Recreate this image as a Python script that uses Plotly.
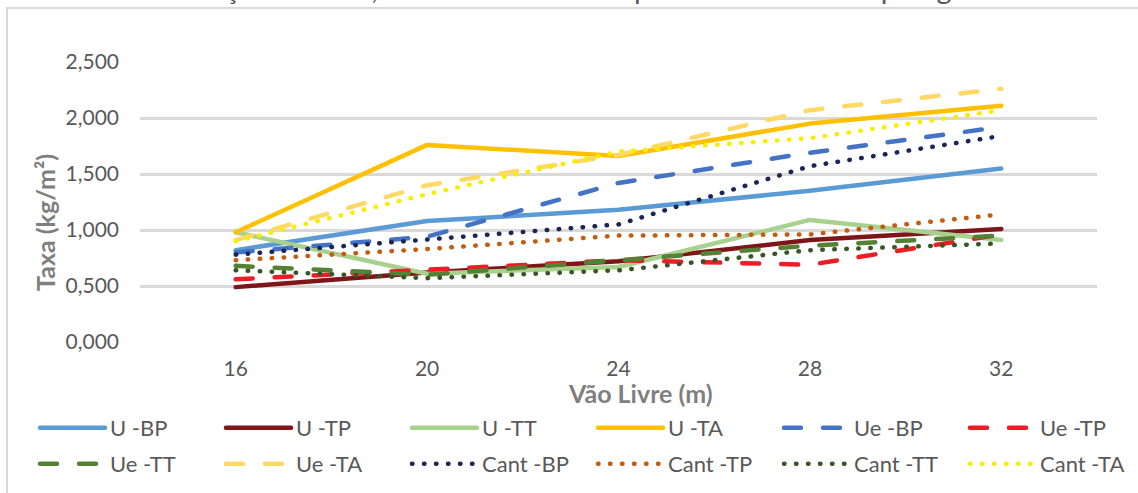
import plotly.graph_objects as go

# Vão livre (m) – eixo de categorias
vaos = ["16", "20", "24", "28", "32"]

# Taxa (kg/m²) por tipologia
u_bp = [0.82, 1.08, 1.18, 1.35, 1.55]
u_tp = [0.49, 0.62, 0.72, 0.91, 1.01]
u_tt = [0.98, 0.61, 0.67, 1.09, 0.91]
u_ta = [0.98, 1.76, 1.66, 1.95, 2.11]
ue_bp = [0.80, 0.94, 1.42, 1.69, 1.92]
ue_tp = [0.56, 0.65, 0.73, 0.69, 0.96]
ue_tt = [0.68, 0.60, 0.73, 0.86, 0.95]
ue_ta = [0.91, 1.40, 1.67, 2.07, 2.26]
cant_bp = [0.78, 0.92, 1.05, 1.57, 1.84]
cant_tp = [0.73, 0.83, 0.95, 0.96, 1.14]
cant_tt = [0.64, 0.57, 0.64, 0.82, 0.88]
cant_ta = [0.90, 1.32, 1.70, 1.82, 2.07]

nomes = ["U -BP", "U -TP", "U -TT", "U -TA",
         "Ue -BP", "Ue -TP", "Ue -TT", "Ue -TA",
         "Cant -BP", "Cant -TP", "Cant -TT", "Cant -TA"]
series = [u_bp, u_tp, u_tt, u_ta, ue_bp, ue_tp, ue_tt, ue_ta,
          cant_bp, cant_tp, cant_tt, cant_ta]
cores = ["#5B9BD5", "#7E1518", "#A9D18E", "#FFC000",
         "#4472C4", "#EE1C25", "#548235", "#FFD966",
         "#1C2557", "#C55A11", "#375623", "#F7EE00"]

TRACO = "17px,22px"
PONTO = "0.5px,11.5px"
estilos = ["solid"] * 4 + [TRACO] * 4 + [PONTO] * 4

FONTE = "Lato, 'Open Sans', sans-serif"
CINZA = "#595959"

# legenda em duas linhas de seis entradas, cada linha dividida em duas metades
grupos_legenda = ["legend", "legend", "legend", "legend2", "legend2", "legend2",
                  "legend3", "legend3", "legend3", "legend4", "legend4", "legend4"]

fig = go.Figure()
for nome, ys, cor, dash, leg in zip(nomes, series, cores, estilos, grupos_legenda):
    fig.add_trace(go.Scatter(
        x=vaos, y=ys, name=nome, mode="lines",
        line=dict(color=cor, width=4.5, dash=dash),
        legend=leg,
    ))

# posições em pixels convertidas para coordenadas do papel
L, R, T, B = 140, 41, 62, 151
W, H = 1138, 493
pw, ph = W - L - R, H - T - B


def px(x):
    return (x - L) / pw


def py(y):
    return (H - B - y) / ph


legenda = dict(
    orientation="h", xanchor="left", yanchor="middle", xref="container",
    font=dict(family=FONTE, size=22, color=CINZA),
    itemwidth=65, entrywidth=106, entrywidthmode="pixels",
    bgcolor="rgba(0,0,0,0)", itemclick=False, itemdoubleclick=False,
)
COL0, COL3 = 35, 35 + 3 * 186
LINHA1, LINHA2 = 428, 464

fig.update_layout(
    width=W, height=H,
    margin=dict(l=L, r=R, t=T, b=B, autoexpand=False),
    paper_bgcolor="white", plot_bgcolor="white",
    separators=", ",
    font=dict(family=FONTE, color=CINZA),
    xaxis=dict(
        type="category", range=[-0.5, 4.5],
        showgrid=False, zeroline=False, showline=False,
        tickfont=dict(family=FONTE, size=21, color=CINZA),
        ticklabelstandoff=12,
    ),
    yaxis=dict(
        range=[0, 2.5], tickvals=[0, 0.5, 1.0, 1.5, 2.0, 2.5],
        tickformat=".3f",
        showgrid=True, gridcolor="#D9D9D9", gridwidth=2.5,
        zeroline=False, showline=False,
        tickfont=dict(family=FONTE, size=21, color=CINZA),
        ticklabelstandoff=20,
    ),
    legend=dict(legenda, x=COL0 / W, y=py(LINHA1)),
    legend2=dict(legenda, x=COL3 / W, y=py(LINHA1)),
    legend3=dict(legenda, x=COL0 / W, y=py(LINHA2)),
    legend4=dict(legenda, x=COL3 / W, y=py(LINHA2)),
    annotations=[
        dict(text="Variação da Taxa, Resultados obtidos por cada uma das tipologias",
             xref="paper", yref="paper", x=px(573), y=py(7),
             xanchor="center", yanchor="bottom", showarrow=False,
             font=dict(family=FONTE, size=29, color=CINZA)),
        dict(text="<b>Taxa (kg/m²)</b>", textangle=-90,
             xref="paper", yref="paper", x=px(45), y=py(223),
             xanchor="center", yanchor="middle",
             showarrow=False, font=dict(family=FONTE, size=25, color="#7F7F7F")),
        dict(text="<b>Vão Livre (m)</b>",
             xref="paper", yref="paper", x=px(640), y=py(393),
             xanchor="center", yanchor="middle",
             showarrow=False, font=dict(family=FONTE, size=25, color="#7F7F7F")),
    ],
    shapes=[
        dict(type="rect", xref="paper", yref="paper",
             x0=px(7), x1=px(1150), y0=py(8), y1=py(505),
             line=dict(color="#D9D9D9", width=2), fillcolor="rgba(0,0,0,0)",
             layer="below"),
    ],
    showlegend=True,
)

# pontas arredondadas para traços e pontos
arredonda = """
var gd = document.querySelector('.plotly-graph-div');
function arred() {
  gd.querySelectorAll('path.js-line').forEach(function (p) {
    p.style.strokeLinecap = 'round';
    p.style.strokeLinejoin = 'round';
  });
}
arred();
gd.on('plotly_afterplot', arred);
"""

fig.write_html("out.html", post_script=arredonda)
